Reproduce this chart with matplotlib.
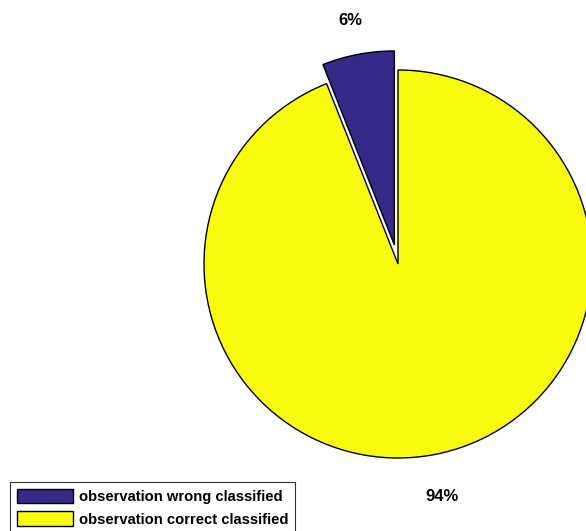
import matplotlib
matplotlib.use("Agg")
import matplotlib.pyplot as plt

# data
labels = ["observation wrong classified", "observation correct classified"]
shares = [6, 94]
colors = ["#352a87", "#f9fb0e"]
explode = [0.1, 0]

plt.rcParams['font.family'] = ['Liberation Sans', 'DejaVu Sans']

W, H = 586, 531
fig = plt.figure(figsize=(W / 100, H / 100), dpi=100)
ax = fig.add_axes([0, 0, 1, 1])

cx, cy, r = 398, 264, 194  # pie centre / radius in pixels

wedges, texts = ax.pie(shares, colors=colors, explode=explode, startangle=90,
                       counterclock=True, labels=[f"{s}%" for s in shares],
                       labeldistance=1.2,
                       wedgeprops=dict(edgecolor="black", linewidth=1.0),
                       textprops=dict(fontsize=12, fontweight="bold"))
for t in texts:
    x, y = t.get_position()
    t.set_position((x, y - 4 / r))
    t.set_ha("center")
    t.set_va("center")

ax.set_aspect("auto")
ax.set_xlim(-cx / r, (W - cx) / r)
ax.set_ylim(-(H - cy) / r, cy / r)
ax.axis("off")

leg = fig.legend(wedges, labels, loc="upper left",
                 bbox_to_anchor=(10 / W, 1 - 482 / H),
                 prop=dict(size=10.6, weight="bold"),
                 frameon=True, fancybox=False, edgecolor="black",
                 handlelength=3.8, handleheight=1.15, handletextpad=0.45,
                 borderpad=0.45, labelspacing=0.5, borderaxespad=0)
leg.get_frame().set_linewidth(0.8)

fig.savefig("out.png", dpi=100)
